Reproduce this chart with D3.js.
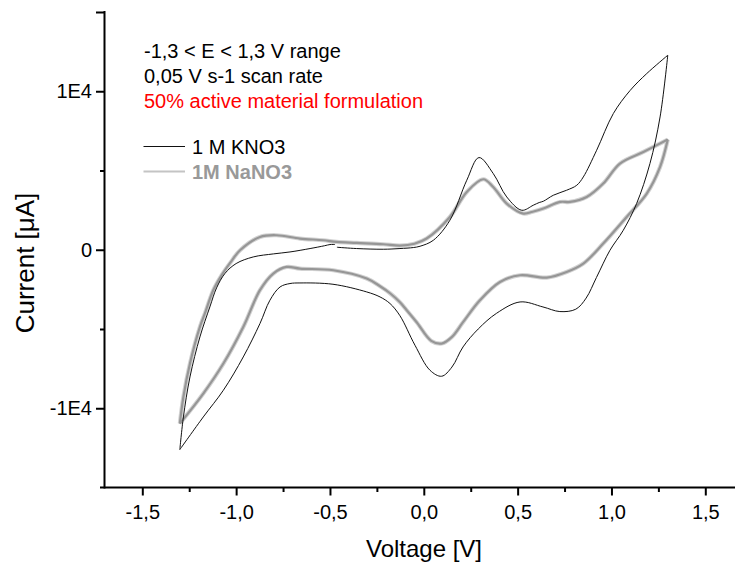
<!DOCTYPE html>
<html>
<head>
<meta charset="utf-8">
<script src="https://cdn.jsdelivr.net/npm/d3@7"></script>
<style>
html,body{margin:0;padding:0;background:#fff;}
svg{display:block;font-family:"Liberation Sans",Arial,sans-serif;}
</style>
</head>
<body>
<svg id="chart" width="735" height="563"></svg>
<script>
// ---- Data (Voltage [V], Current [µA]) ----
const xTicksMajor = [-1.5, -1.0, -0.5, 0.0, 0.5, 1.0, 1.5];
const xTicksMinor = [-1.25, -0.75, -0.25, 0.25, 0.75, 1.25];
const yTicksLabeled = [-10000, 0, 10000];
const yTickLabels = ["-1E4", "0", "1E4"];
const yTicksMajorExtra = [15000];
const yTicksMinor = [-5000, 5000];

const infoLines = ["-1,3 < E < 1,3 V range", "0,05 V s-1 scan rate", "50% active material formulation"];
const seriesNames = ["1 M KNO3", "1M NaNO3"];

// 1 M KNO3 : anodic scan from start, cathodic scan, anodic scan to end
const kno3Forward1 = [
  [-0.463, 158], [-0.358, 76], [-0.216, 32], [-0.127, 76], [-0.056, 139], [-0.020, 221],
  [0.051, 599], [0.139, 1861], [0.229, 4385], [0.294, 5817], [0.370, 4808], [0.442, 3331],
  [0.522, 2492], [0.583, 2807], [0.615, 2980], [0.637, 3060], [0.690, 3438], [0.761, 3754],
  [0.815, 4069], [0.850, 4593], [0.921, 6277], [1.010, 8593], [1.099, 10044], [1.188, 11116],
  [1.300, 12271]
];
const kno3Reverse = [
  [1.300, 12271], [1.259, 8378], [1.205, 5438], [1.134, 2915], [1.063, 1230], [0.992, -32],
  [0.920, -1750], [0.865, -3050], [0.810, -3750], [0.725, -3900], [0.635, -3609], [0.513, -3293],
  [0.388, -4006], [0.290, -5000], [0.209, -6132], [0.150, -7400], [0.095, -7981], [0.033, -7603],
  [-0.047, -6025], [-0.127, -4164], [-0.180, -3394], [-0.233, -2978], [-0.304, -2662],
  [-0.484, -2177], [-0.660, -2095], [-0.713, -2132], [-0.766, -2347], [-0.820, -3186],
  [-0.873, -4656], [-0.962, -6763], [-1.068, -8864], [-1.175, -10549], [-1.300, -12606]
];
const kno3Forward2 = [
  [-1.300, -12606], [-1.281, -10549], [-1.246, -8025], [-1.193, -5502], [-1.140, -3609],
  [-1.104, -2400], [-1.060, -1500], [-1.000, -871], [-0.909, -454], [-0.800, -260], [-0.713, -139],
  [-0.606, 76], [-0.530, 250], [-0.500, 328], [-0.473, 330]
];

// 1M NaNO3 : closed cycle
const nano3Forward = [
  [-1.300, -10965], [-1.281, -9287], [-1.246, -7180], [-1.193, -4871], [-1.166, -4000],
  [-1.122, -2555], [-1.077, -1600], [-1.030, -800], [-0.979, -32], [-0.873, 808], [-0.784, 915],
  [-0.660, 707], [-0.536, 599], [-0.464, 492], [-0.358, 429], [-0.216, 347], [-0.127, 260],
  [-0.050, 380], [0.015, 707], [0.139, 2069], [0.229, 3647], [0.317, 4448], [0.370, 3962],
  [0.442, 2915], [0.530, 2284], [0.580, 2400], [0.637, 2599], [0.726, 3016], [0.779, 3016],
  [0.868, 3331], [0.956, 4177], [1.045, 5438], [1.170, 6170], [1.300, 6952]
];
const nano3Reverse = [
  [1.300, 6952], [1.259, 5224], [1.188, 3546], [1.081, 2069], [0.956, 391], [0.850, -871],
  [0.761, -1401], [0.655, -1754], [0.513, -1609], [0.406, -2031], [0.299, -3186], [0.210, -4555],
  [0.150, -5500], [0.095, -5918], [0.040, -5750], [-0.038, -4574], [-0.091, -3818], [-0.127, -3312],
  [-0.180, -2744], [-0.233, -2303], [-0.304, -1817], [-0.482, -1293], [-0.660, -1186], [-0.731, -1085],
  [-0.802, -1502], [-0.873, -2550], [-0.962, -4871], [-1.068, -7180], [-1.175, -9072],
  [-1.300, -10965]
];

// ---- Chart ----
const FONT = "'Liberation Sans', Arial, sans-serif";
const svg = d3.select("#chart");
const x = d3.scaleLinear().domain([-1.5, 1.5]).range([142.3, 705.3]);
const y = d3.scaleLinear().domain([-15000, 15000]).range([487.5, 12]);
const xLeft = x.invert(104.5);

const line = d3.line().x(d => x(d[0])).y(d => y(d[1])).curve(d3.curveCatmullRom.alpha(0.5));

// NaNO3 (thick grey with soft edge)
const grey = [nano3Forward, nano3Reverse];
grey.forEach(seg => {
  svg.append("path").attr("d", line(seg)).attr("fill", "none")
    .attr("stroke", "#d2d2d2").attr("stroke-width", 4.2).attr("stroke-linejoin", "round");
});
grey.forEach(seg => {
  svg.append("path").attr("d", line(seg)).attr("fill", "none")
    .attr("stroke", "#969696").attr("stroke-width", 2.2).attr("stroke-linejoin", "round");
});
// KNO3 (thin black)
[kno3Forward1, kno3Reverse, kno3Forward2].forEach(seg => {
  svg.append("path").attr("d", line(seg)).attr("fill", "none")
    .attr("stroke", "#111").attr("stroke-width", 1).attr("stroke-linejoin", "miter");
});

// Axes
const xAxis = d3.axisBottom(x).tickValues(xTicksMajor).tickSize(8).tickSizeOuter(0)
  .tickFormat(d => d3.format(".1f")(d).replace(".", ",").replace("\u2212", "-"));
const gx = svg.append("g").attr("transform", `translate(0,${y(-15000)})`).call(xAxis);
gx.select(".domain").remove();
gx.selectAll(".tick line").attr("stroke", "#000").attr("stroke-width", 2);
gx.selectAll(".tick text").attr("font-size", 20).attr("fill", "#000").attr("y", 17.5)
  .attr("dy", "0.71em").attr("font-family", FONT);
const gxm = svg.append("g").attr("transform", `translate(0,${y(-15000)})`)
  .call(d3.axisBottom(x).tickValues(xTicksMinor).tickSize(4.5).tickFormat(""));
gxm.select(".domain").remove();
gxm.selectAll(".tick line").attr("stroke", "#000").attr("stroke-width", 2);

const yAxis = d3.axisLeft(y).tickValues(yTicksLabeled).tickSize(8.5)
  .tickFormat((d, i) => yTickLabels[i]);
const gy = svg.append("g").attr("transform", `translate(${x(xLeft)},0)`).call(yAxis);
gy.select(".domain").remove();
gy.selectAll(".tick line").attr("stroke", "#000").attr("stroke-width", 2);
gy.selectAll(".tick text").attr("font-size", 20).attr("fill", "#000").attr("x", -12.5)
  .attr("font-family", FONT);
const gye = svg.append("g").attr("transform", `translate(${x(xLeft)},0)`)
  .call(d3.axisLeft(y).tickValues(yTicksMajorExtra).tickSize(8.5).tickFormat(""));
gye.select(".domain").remove();
gye.selectAll(".tick line").attr("stroke", "#000").attr("stroke-width", 2);
const gym = svg.append("g").attr("transform", `translate(${x(xLeft)},0)`)
  .call(d3.axisLeft(y).tickValues(yTicksMinor).tickSize(4.5).tickFormat(""));
gym.select(".domain").remove();
gym.selectAll(".tick line").attr("stroke", "#000").attr("stroke-width", 2);

// Axis lines
svg.append("line").attr("x1", x(xLeft)).attr("x2", x(xLeft)).attr("y1", y(15000) - 1).attr("y2", y(-15000) + 1)
  .attr("stroke", "#000").attr("stroke-width", 2);
svg.append("line").attr("x1", 100).attr("x2", 735).attr("y1", y(-15000)).attr("y2", y(-15000))
  .attr("stroke", "#000").attr("stroke-width", 2);

// Axis titles
svg.append("text").attr("x", 424).attr("y", 557).attr("text-anchor", "middle")
  .attr("font-size", 24).attr("fill", "#000").text("Voltage [V]");
svg.append("text").attr("transform", "translate(34,263) rotate(-90)").attr("text-anchor", "middle")
  .attr("font-size", 26).attr("fill", "#000").text("Current [\u03bcA]");

// Info text
const infoColors = ["#000", "#000", "#ff0000"];
infoLines.forEach((t, i) => {
  svg.append("text").attr("x", 144).attr("y", 58 + i * 25).attr("font-size", 20)
    .attr("fill", infoColors[i]).text(t);
});

// Legend
svg.append("line").attr("x1", 143.5).attr("x2", 185).attr("y1", 146.5).attr("y2", 146.5)
  .attr("stroke", "#111").attr("stroke-width", 1);
svg.append("text").attr("x", 192).attr("y", 153.5).attr("font-size", 20).attr("fill", "#000").text(seriesNames[0]);
svg.append("line").attr("x1", 143.5).attr("x2", 185).attr("y1", 171.5).attr("y2", 171.5)
  .attr("stroke", "#c4c4c4").attr("stroke-width", 2);
svg.append("text").attr("x", 192).attr("y", 178.5).attr("font-size", 20).attr("font-weight", "bold")
  .attr("fill", "#999").text(seriesNames[1]);
</script>
</body>
</html>
